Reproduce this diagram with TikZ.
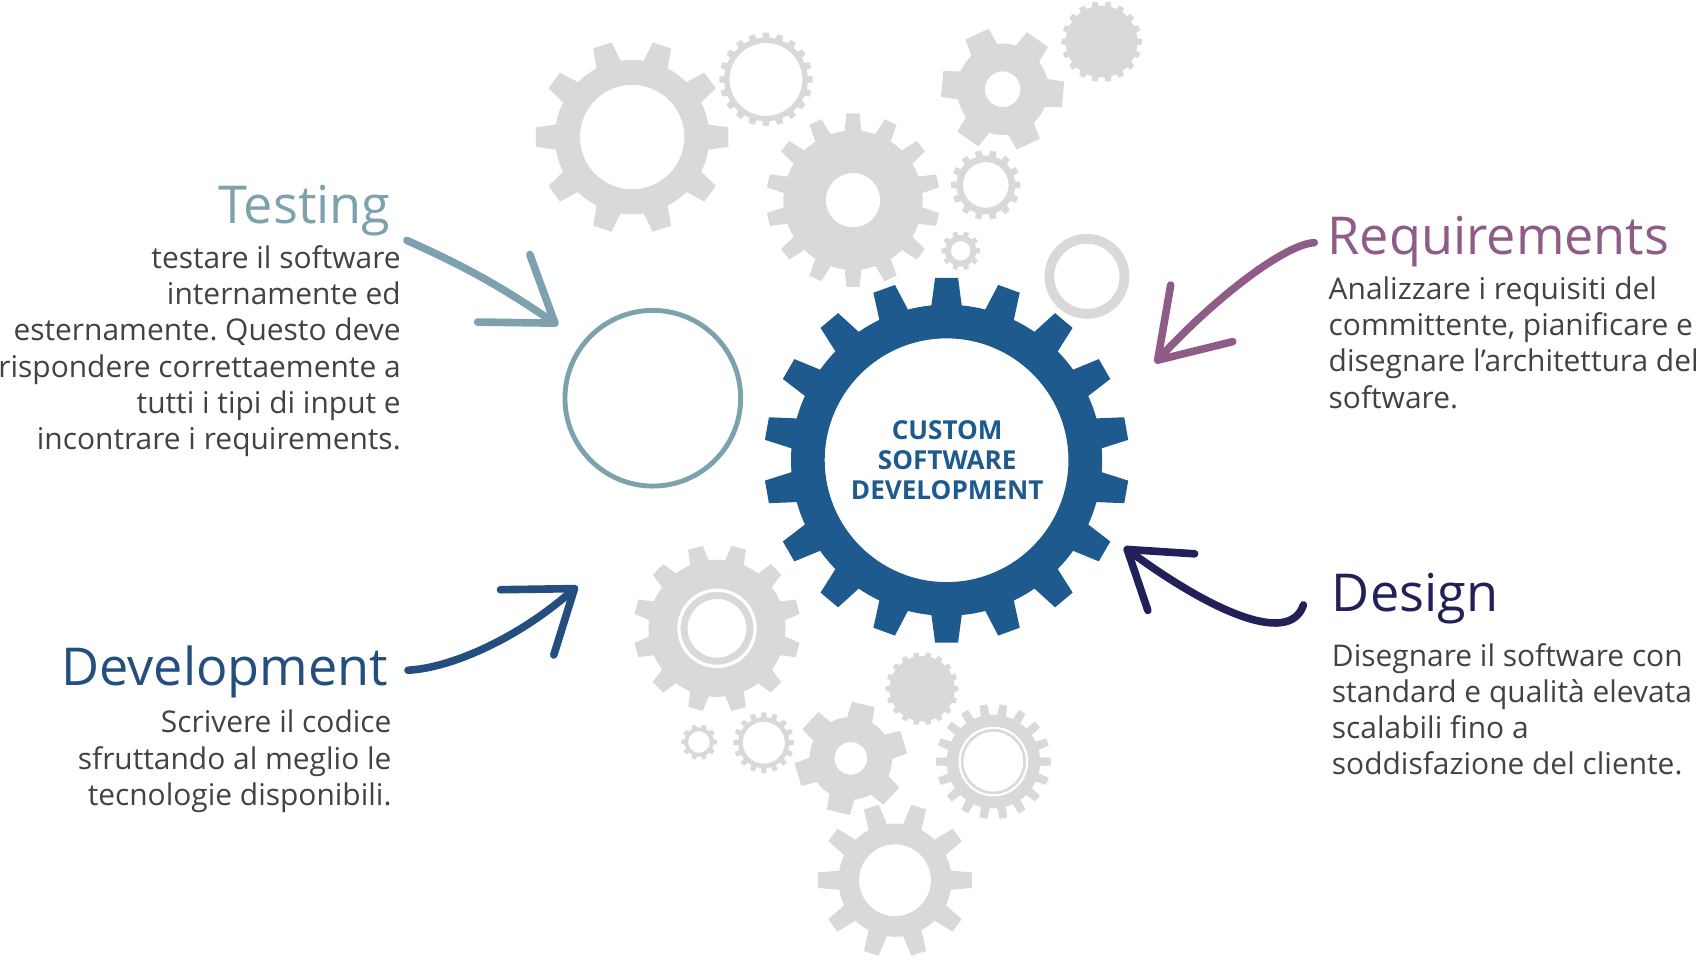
\documentclass[tikz,border=0pt]{standalone}
\usepackage{fontspec}
\setmainfont{Open Sans}
\frenchspacing

\definecolor{testcol}{RGB}{125,162,173}
\definecolor{reqcol}{RGB}{142,92,135}
\definecolor{designcol}{RGB}{34,32,88}
\definecolor{devcol}{RGB}{35,78,125}
\definecolor{corecol}{RGB}{30,90,142}
\definecolor{cogcol}{RGB}{217,217,217}
\definecolor{bodygray}{RGB}{66,66,66}

% {x,y}{teeth}{root}{tip}{offset}{hole}{base}{top}{colour}
\newcommand{\cog}[9]{%
  \begin{scope}[shift={(#1)}]
    \pgfmathsetmacro{\cogstep}{360/#2}
    \fill[#9,even odd rule] ({#5-#7*\cogstep}:#3)
      \foreach \k in {1,...,#2}{
        -- ({#5+(\k-1)*\cogstep-#7*\cogstep}:#3)
        -- ({#5+(\k-1)*\cogstep-#8*\cogstep}:#4)
        -- ({#5+(\k-1)*\cogstep+#8*\cogstep}:#4)
        -- ({#5+(\k-1)*\cogstep+#7*\cogstep}:#3)
        arc[start angle={#5+(\k-1)*\cogstep+#7*\cogstep}, end angle={#5+\k*\cogstep-#7*\cogstep}, radius=#3]
      } -- cycle (0,0) circle (#6);
  \end{scope}}

\tikzset{
  title/.style={font=\fontsize{48}{50}\selectfont, inner sep=0pt},
  body/.style={font=\fontsize{27.5}{33.2}\selectfont, text=bodygray, inner sep=0pt},
  brush/.style={line width=7pt, line cap=round, line join=round},
}

\begin{document}
\begin{tikzpicture}[x=1pt,y=1pt]
    \useasboundingbox (0,0) rectangle (1568,-891.5);

    \cog{581,-126}{10}{71}{89}{0}{48}{0.26}{0.16}{cogcol}
    \cog{704,-73}{20}{38.5}{43}{0}{33.5}{0.28}{0.2}{cogcol}
    \cog{784,-184}{14}{64}{80}{90}{25}{0.27}{0.17}{cogcol}
    \cog{921.5,-82}{6}{42}{57}{-5}{16.4}{0.3}{0.2}{cogcol}
    \cog{1012.5,-38.3}{18}{33}{37}{0}{0.01}{0.27}{0.19}{cogcol}
    \cog{906,-170}{14}{27}{32}{0}{21}{0.27}{0.2}{cogcol}
    \cog{883,-230.5}{10}{14.5}{18}{0}{9}{0.27}{0.2}{cogcol}
    \draw[cogcol, line width=9pt] (999,-254) circle (34.5);
    \cog{659,-577.5}{12}{63}{77}{15}{27}{0.27}{0.17}{cogcol}
    \draw[white, line width=3pt] (659,-577.5) circle (35);
    \cog{642.5,-682}{10}{13.5}{16.4}{0}{10}{0.27}{0.2}{cogcol}
    \cog{702,-682.6}{16}{23.5}{28}{0}{19.3}{0.27}{0.2}{cogcol}
    \cog{782,-697}{6}{38}{52}{17}{15}{0.3}{0.2}{cogcol}
    \cog{847.5,-633}{18}{30}{33.5}{0}{0.01}{0.27}{0.19}{cogcol}
    \cog{913,-700}{18}{43}{53}{0}{27.5}{0.27}{0.19}{cogcol}
    \draw[white, line width=2pt] (913,-700) circle (31);
    \cog{822.6,-809}{10}{52}{71}{0}{33}{0.27}{0.16}{cogcol}

    \cog{870,-423}{18}{143}{168}{10}{112}{0.28}{0.18}{corecol}
    \node[circle, draw=testcol, line width=4.5pt, minimum size=161.5pt] (ring) at (600,-366) {};

    \node[anchor=base, align=center, inner sep=0pt, text=corecol, font=\bfseries\fontsize{24}{27.5}\selectfont] (core) at (870.6,-459) {CUSTOM\\SOFTWARE\\DEVELOPMENT};

    \node[title, text=testcol, anchor=base east] (testing) at (359,-205) {Testing};
    \node[body, align=right, anchor=base east] (testtext) at (368.5,-413) {testare il software\\internamente ed\\esternamente. Questo deve\\rispondere correttaemente a\\tutti i tipi di input e\\incontrare i requirements.};
    \node[title, text=reqcol, anchor=base west] (req) at (1220,-234) {Requirements};
    \node[body, align=left, anchor=base west] (reqtext) at (1221,-375) {Analizzare i requisiti del\\committente, pianificare e\\disegnare l’architettura del\\software.};
    \node[title, text=designcol, anchor=base west] (design) at (1224,-562) {Design};
    \node[body, align=left, anchor=base west] (designtext) at (1224,-712) {Disegnare il software con\\standard e qualità elevata\\scalabili fino a\\soddisfazione del cliente.};
    \node[title, text=devcol, anchor=base east] (devel) at (357,-630) {Development};
    \node[body, align=right, anchor=base east] (develtext) at (360,-740) {Scrivere il codice\\sfruttando al meglio le\\tecnologie disponibili.};

    \coordinate (testfrom) at ([shift={(15,-16)}]testing.base east);
    \coordinate (testtip) at (510,-297);
    \draw[brush, testcol] (testfrom) to[bend left=5] (testtip);
    \draw[brush, testcol] ([shift={(-23,63)}]testtip) -- (testtip) -- ([shift={(-71,1)}]testtip);

    \coordinate (reqfrom) at ([shift={(-12,11)}]req.base west);
    \coordinate (reqtip) at (1064,-331);
    \draw[brush, reqcol] (reqfrom) .. controls +(-30,-2) and +(45,50) .. (reqtip);
    \draw[brush, reqcol] ([shift={(12,69)}]reqtip) -- (reqtip) -- ([shift={(69,17)}]reqtip);

    \coordinate (designfrom) at ([shift={(-26,6)}]design.base west);
    \coordinate (designtip) at (1036,-505);
    \draw[brush, designcol] (designfrom) .. controls (1185,-595) and (1110,-560) .. (designtip);
    \draw[brush, designcol] ([shift={(62,-4)}]designtip) -- (designtip) -- ([shift={(19,-56)}]designtip);

    \coordinate (develfrom) at ([shift={(18,14)}]devel.base east);
    \coordinate (develtip) at (528,-541);
    \draw[brush, devcol] (develfrom) .. controls +(40,2) and +(-50,-45) .. (develtip);
    \draw[brush, devcol] ([shift={(-68,-1)}]develtip) -- (develtip) -- ([shift={(-19,-61)}]develtip);
\end{tikzpicture}
\end{document}
